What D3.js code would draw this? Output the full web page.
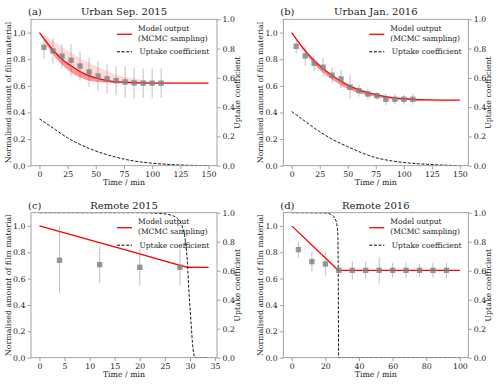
<!DOCTYPE html>
<html lang="en">
<meta charset="utf-8">
<style>
body { margin: 0; background: #fff; }
text { font-family: "DejaVu Serif", serif; fill: #222; }
</style>
<body>
<script src="https://d3js.org/d3.v7.min.js"></script>
<div id="chart"></div>
<script>
// ---- data ----

// (a) Urban Sep. 2015
var timeA = [4, 12, 20, 28, 36, 44, 52, 60, 68, 76, 84, 92, 100, 108];
var obsA = [0.89, 0.862, 0.822, 0.792, 0.749, 0.704, 0.674, 0.652, 0.639, 0.629, 0.622, 0.62, 0.62, 0.62];
var errA = [0.085, 0.095, 0.09, 0.12, 0.11, 0.11, 0.11, 0.11, 0.11, 0.115, 0.115, 0.11, 0.11, 0.11];
var modelTA = [0, 10, 20, 30, 40, 50, 60, 70, 80, 90, 100, 120, 150];
var modelA = [1.0, 0.89, 0.80, 0.74, 0.69, 0.66, 0.64, 0.63, 0.625, 0.622, 0.62, 0.62, 0.62];
var modelHiA = [1.0, 0.95, 0.89, 0.84, 0.79, 0.75, 0.71, 0.68, 0.66, 0.645, 0.635, 0.625, 0.62];
var modelLoA = [1.0, 0.86, 0.76, 0.69, 0.65, 0.63, 0.625, 0.62, 0.62, 0.62, 0.62, 0.62, 0.62];
var uptakeTA = [0, 12.5, 25, 37.5, 50, 62.5, 75, 87.5, 100, 125, 150];
var uptakeA = [0.32, 0.255, 0.19, 0.14, 0.10, 0.07, 0.045, 0.028, 0.017, 0.005, 0];

// (b) Urban Jan. 2016
var timeB = [4, 12, 20, 28, 36, 44, 52, 60, 68, 76, 84, 92, 100, 108];
var obsB = [0.897, 0.825, 0.77, 0.74, 0.68, 0.652, 0.59, 0.564, 0.539, 0.526, 0.499, 0.499, 0.499, 0.499];
var errB = [0.055, 0.075, 0.06, 0.07, 0.06, 0.07, 0.09, 0.045, 0.04, 0.03, 0.045, 0.04, 0.035, 0.04];
var modelTB = [0, 10, 20, 30, 40, 50, 60, 70, 80, 90, 100, 120, 150];
var modelB = [1.0, 0.885, 0.79, 0.715, 0.655, 0.605, 0.57, 0.545, 0.525, 0.512, 0.503, 0.495, 0.492];
var modelHiB = [1.0, 0.89, 0.80, 0.727, 0.667, 0.617, 0.58, 0.553, 0.531, 0.517, 0.507, 0.497, 0.493];
var modelLoB = [1.0, 0.87, 0.765, 0.685, 0.625, 0.577, 0.546, 0.525, 0.51, 0.50, 0.495, 0.491, 0.49];
var uptakeTB = [0, 12.5, 25, 37.5, 50, 62.5, 75, 87.5, 100, 125, 150];
var uptakeB = [0.37, 0.30, 0.232, 0.175, 0.13, 0.088, 0.055, 0.035, 0.022, 0.008, 0];

// (c) Remote 2015
var timeC = [4, 12, 20, 28];
var obsC = [0.739, 0.706, 0.686, 0.686];
var errC = [0.25, 0.14, 0.14, 0.14];
var modelTC = [0, 10, 20, 25, 28, 29.5, 31, 33.7];
var modelC = [1.0, 0.893, 0.787, 0.733, 0.70, 0.685, 0.685, 0.685];
var modelHiC = [1.0, 0.895, 0.79, 0.74, 0.712, 0.70, 0.695, 0.69];
var modelLoC = [1.0, 0.892, 0.785, 0.73, 0.697, 0.682, 0.682, 0.682];
var uptakeTC = [0, 20, 24, 26, 27.5, 28.5, 29.1, 29.5, 29.8, 30.2, 30.5, 31, 33.7];
var uptakeC = [1, 1, 0.995, 0.985, 0.96, 0.9, 0.8, 0.65, 0.45, 0.25, 0.1, 0, 0];

// (d) Remote 2016
var timeD = [4, 12, 20, 28, 36, 44, 52, 60, 68, 76, 84, 92];
var obsD = [0.82, 0.729, 0.711, 0.663, 0.663, 0.663, 0.663, 0.663, 0.663, 0.663, 0.663, 0.663];
var errD = [0.06, 0.075, 0.09, 0.03, 0.07, 0.065, 0.1, 0.057, 0.06, 0.047, 0.055, 0.058];
var modelTD = [0, 27.7, 100];
var modelD = [1.0, 0.663, 0.663];
var modelHiD = [1.0, 0.663, 0.663];
var modelLoD = [1.0, 0.663, 0.663];
var uptakeTD = [0, 20, 23, 25.5, 26.8, 27.4, 27.7, 27.9, 100];
var uptakeD = [1, 0.998, 0.99, 0.965, 0.92, 0.85, 0.5, 0, 0];

var titles = ["Urban Sep. 2015", "Urban Jan. 2016", "Remote 2015", "Remote 2016"];
var tags = ["(a)", "(b)", "(c)", "(d)"];
var yTicks = [0, 0.2, 0.4, 0.6, 0.8, 1.0];
var legendLabels = ["Model output", "(MCMC sampling)", "Uptake coefficient"];

// ---- layout ----
var width = 500, height = 384;
var spineColor = "#8c8c8c";

var panels = [
  {x0: 31, x1: 217, y0: 19.3, y1: 165.7, xDomain: [-7.5, 157.5], xTicks: d3.range(0, 151, 25), curve: d3.curveMonotoneX,
   t: timeA, obs: obsA, err: errA, mt: modelTA, m: modelA, hi: modelHiA, lo: modelLoA, ut: uptakeTA, u: uptakeA},
  {x0: 283.3, x1: 468.3, y0: 19.3, y1: 165.7, xDomain: [-7.5, 157.5], xTicks: d3.range(0, 151, 25), curve: d3.curveMonotoneX,
   t: timeB, obs: obsB, err: errB, mt: modelTB, m: modelB, hi: modelHiB, lo: modelLoB, ut: uptakeTB, u: uptakeB},
  {x0: 31, x1: 217, y0: 212.7, y1: 357.7, xDomain: [-1.685, 35.385], xTicks: d3.range(0, 36, 5), curve: d3.curveLinear,
   t: timeC, obs: obsC, err: errC, mt: modelTC, m: modelC, hi: modelHiC, lo: modelLoC, ut: uptakeTC, u: uptakeC},
  {x0: 283.3, x1: 468.3, y0: 212.7, y1: 357.7, xDomain: [-5, 105], xTicks: d3.range(0, 101, 20), curve: d3.curveLinear,
   t: timeD, obs: obsD, err: errD, mt: modelTD, m: modelD, hi: modelHiD, lo: modelLoD, ut: uptakeTD, u: uptakeD}
];

var svg = d3.select("#chart").append("svg")
    .attr("width", width)
    .attr("height", height);

panels.forEach(function(p, i) {
  var w = p.x1 - p.x0, h = p.y1 - p.y0;
  var x = d3.scaleLinear().domain(p.xDomain).range([0, w]);
  var y = d3.scaleLinear().domain([0, 1.1]).range([h, 0]);
  var y2 = d3.scaleLinear().domain([0, 1]).range([h, 0]);

  var g = svg.append("g").attr("transform", "translate(" + p.x0 + "," + p.y0 + ")");

  var clipId = "clip" + i;
  g.append("clipPath").attr("id", clipId)
    .append("rect").attr("width", w).attr("height", h);
  var plot = g.append("g").attr("clip-path", "url(#" + clipId + ")");

  // MCMC spread of the model
  var band = p.mt.map(function(t, k) { return {t: t, m: p.m[k], hi: p.hi[k], lo: p.lo[k]}; });
  plot.append("path")
      .datum(band)
      .attr("fill", "#ff0000")
      .attr("fill-opacity", 0.14)
      .attr("d", d3.area().curve(p.curve)
        .x(function(d) { return x(d.t); })
        .y0(function(d) { return y(d.lo); })
        .y1(function(d) { return y(d.hi); }));
  plot.append("path")
      .datum(band)
      .attr("fill", "#ff0000")
      .attr("fill-opacity", 0.32)
      .attr("d", d3.area().curve(p.curve)
        .x(function(d) { return x(d.t); })
        .y0(function(d) { return y(d.lo); })
        .y1(function(d) { return y(d.m); }));
  plot.append("path")
      .datum(band)
      .attr("fill", "none")
      .attr("stroke", "#ff0000")
      .attr("stroke-width", 1.3)
      .attr("d", d3.line().curve(p.curve)
        .x(function(d) { return x(d.t); })
        .y(function(d) { return y(d.m); }));

  // uptake coefficient on right axis
  var up = p.ut.map(function(t, k) { return {t: t, u: p.u[k]}; });
  plot.append("path")
      .datum(up)
      .attr("fill", "none")
      .attr("stroke", "#000")
      .attr("stroke-width", 0.9)
      .attr("stroke-dasharray", "3,1.6")
      .attr("d", d3.line().curve(d3.curveMonotoneX)
        .x(function(d) { return x(d.t); })
        .y(function(d) { return y2(d.u); }));

  // observations with error bars
  var obs = p.t.map(function(t, k) { return {t: t, v: p.obs[k], e: p.err[k]}; });
  plot.selectAll(".err").data(obs).enter().append("line")
      .attr("x1", function(d) { return x(d.t); })
      .attr("x2", function(d) { return x(d.t); })
      .attr("y1", function(d) { return y(d.v - d.e); })
      .attr("y2", function(d) { return y(d.v + d.e); })
      .attr("stroke", "#808080")
      .attr("stroke-opacity", 0.5)
      .attr("stroke-width", 1);
  plot.selectAll(".pt").data(obs).enter().append("rect")
      .attr("x", function(d) { return x(d.t) - 2.7; })
      .attr("y", function(d) { return y(d.v) - 2.7; })
      .attr("width", 5.4)
      .attr("height", 5.4)
      .attr("fill", "#808080")
      .attr("fill-opacity", 0.8);

  // axes
  var fmt = d3.format(".1f");
  var xAxis = g.append("g").attr("transform", "translate(0," + h + ")")
      .call(d3.axisBottom(x).tickValues(p.xTicks).tickSize(3.5).tickPadding(2).tickFormat(d3.format("d")));
  var yAxis = g.append("g")
      .call(d3.axisLeft(y).tickValues(yTicks).tickSize(3.5).tickPadding(2).tickFormat(fmt));
  var yAxis2 = g.append("g").attr("transform", "translate(" + w + ",0)")
      .call(d3.axisRight(y2).tickValues(yTicks).tickSize(3.5).tickPadding(2).tickFormat(fmt));
  [xAxis, yAxis, yAxis2].forEach(function(a) {
    a.selectAll(".domain").remove();
    a.selectAll(".tick line").attr("stroke", spineColor).attr("stroke-width", 0.8);
    a.selectAll(".tick text").style("font-family", "DejaVu Serif").style("font-size", "7.8px").attr("fill", "#222");
  });
  g.append("rect")
      .attr("width", w).attr("height", h)
      .attr("fill", "none")
      .attr("stroke", spineColor)
      .attr("stroke-width", 0.8);

  // axis labels
  g.append("text")
      .attr("x", w / 2).attr("y", h + 19.5)
      .attr("text-anchor", "middle")
      .style("font-size", "7.8px")
      .text("Time / min");
  g.append("text")
      .attr("transform", "translate(" + (-20.3) + "," + (h / 2) + ") rotate(-90)")
      .attr("text-anchor", "middle")
      .style("font-size", "7.8px")
      .text("Normalised amount of film material");
  g.append("text")
      .attr("transform", "translate(" + (w + 23) + "," + (h / 2) + ") rotate(-90)")
      .attr("text-anchor", "middle")
      .style("font-size", "7.8px")
      .text("Uptake coefficient");

  // titles
  g.append("text")
      .attr("x", w / 2).attr("y", -4)
      .attr("text-anchor", "middle")
      .style("font-size", "10px")
      .text(titles[i]);
  g.append("text")
      .attr("x", -3).attr("y", -4)
      .style("font-size", "10px")
      .text(tags[i]);

  // legend
  var lg = g.append("g").attr("transform", "translate(86,0)");
  lg.append("line").attr("x1", 0).attr("x2", 15).attr("y1", 15).attr("y2", 15)
      .attr("stroke", "#ff0000").attr("stroke-width", 1.3);
  lg.append("text").attr("x", 21).attr("y", 11.5).style("font-size", "7.5px").text(legendLabels[0]);
  lg.append("text").attr("x", 21).attr("y", 21.5).style("font-size", "7.5px").text(legendLabels[1]);
  lg.append("line").attr("x1", 0).attr("x2", 15).attr("y1", 32.5).attr("y2", 32.5)
      .attr("stroke", "#000").attr("stroke-width", 1).attr("stroke-dasharray", "3,1.6");
  lg.append("text").attr("x", 22.5).attr("y", 35.2).style("font-size", "7.5px").text(legendLabels[2]);
});
</script>
</body>
</html>
